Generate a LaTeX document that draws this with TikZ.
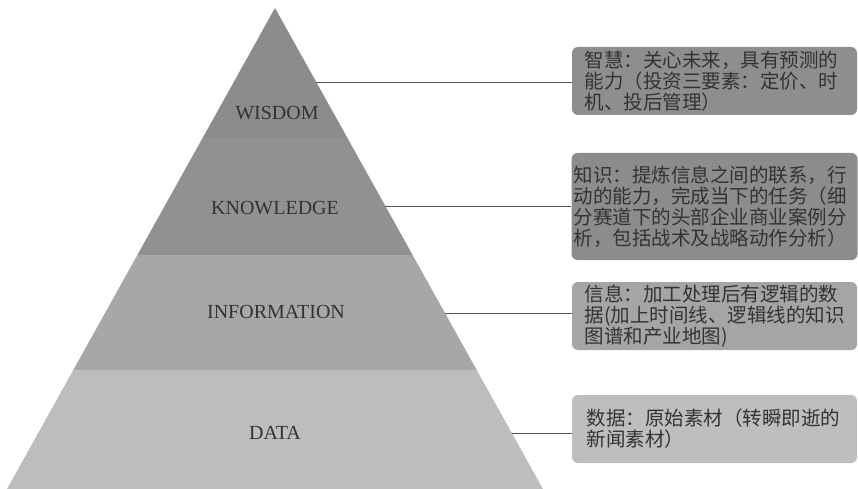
\documentclass[tikz,border=0pt]{standalone}
\usepackage{fontspec}
\setmainfont{Liberation Serif}
\newfontfamily\cjk{Noto Sans CJK SC}
\definecolor{bandW}{HTML}{8C8C8C}
\definecolor{bandK}{HTML}{919191}
\definecolor{bandI}{HTML}{A7A7A7}
\definecolor{bandD}{HTML}{BDBDBD}
\definecolor{boxA}{HTML}{8E8E8E}
\definecolor{boxB}{HTML}{8C8C8C}
\definecolor{boxC}{HTML}{A5A5A5}
\definecolor{boxD}{HTML}{BEBEBE}
\definecolor{inkc}{HTML}{333333}
\definecolor{linec}{HTML}{555555}
\tikzset{
  lvl/.style={font=\fontsize{20}{22}\selectfont, text=inkc},
  note/.style={rounded corners=6pt, draw=none, text=inkc, align=left,
    font=\cjk\fontsize{19.5}{21}\selectfont, inner ysep=0pt},
  conn/.style={draw=linec, line width=0.9pt}
}
\begin{document}
\begin{tikzpicture}[x=1pt,y=-1pt]
\useasboundingbox (0,0) rectangle (858,489);
\coordinate (apex) at (275,8);
\coordinate (bl) at (7,489);
\coordinate (br) at (543,489);
\begin{scope}
  \clip (apex) -- (br) -- (bl) -- cycle;
  \fill[bandW] (0,0) rectangle (858,138);
  \fill[bandK] (0,138) rectangle (858,255);
  \fill[bandI] (0,255) rectangle (858,370);
  \fill[bandD] (0,370) rectangle (858,489);
\end{scope}
\node[lvl] (wis) at (277,113) {WISDOM};
\node[lvl] (kno) at (275,208) {KNOWLEDGE};
\node[lvl] (inf) at (276,312) {INFORMATION};
\node[lvl] (dat) at (275,433) {DATA};

\node[note, fill=boxA, text width=260pt, inner xsep=12.5pt, minimum height=68pt] (b1) at (714.5,81)
 {智慧：关心未来，具有预测的\\能力（投资三要素：定价、时\\机、投后管理）};
\node[note, fill=boxB, text width=282pt, inner xsep=2pt, minimum height=107pt] (b2) at (714.5,206.5)
 {知识：提炼信息之间的联系，行\\动的能力，完成当下的任务（细\\分赛道下的头部企业商业案例分\\析，包括战术及战略动作分析）};
\node[note, fill=boxC, text width=260pt, inner xsep=12.5pt, minimum height=68pt] (b3) at (714.5,316)
 {信息：加工处理后有逻辑的数\\据(加上时间线、逻辑线的知识\\图谱和产业地图)};
\node[note, fill=boxD, text width=256pt, inner xsep=14.5pt, minimum height=68pt] (b4) at (714.5,429)
 {数据：原始素材（转瞬即逝的\\新闻素材）};

\coordinate (e1) at (316,82);
\coordinate (e2) at (385,206);
\coordinate (e3) at (445,313);
\coordinate (e4) at (512,433);
\draw[conn] (e1) -- (e1 -| b1.west);
\draw[conn] (e2) -- (e2 -| b2.west);
\draw[conn] (e3) -- (e3 -| b3.west);
\draw[conn] (e4) -- (e4 -| b4.west);
\end{tikzpicture}
\end{document}
